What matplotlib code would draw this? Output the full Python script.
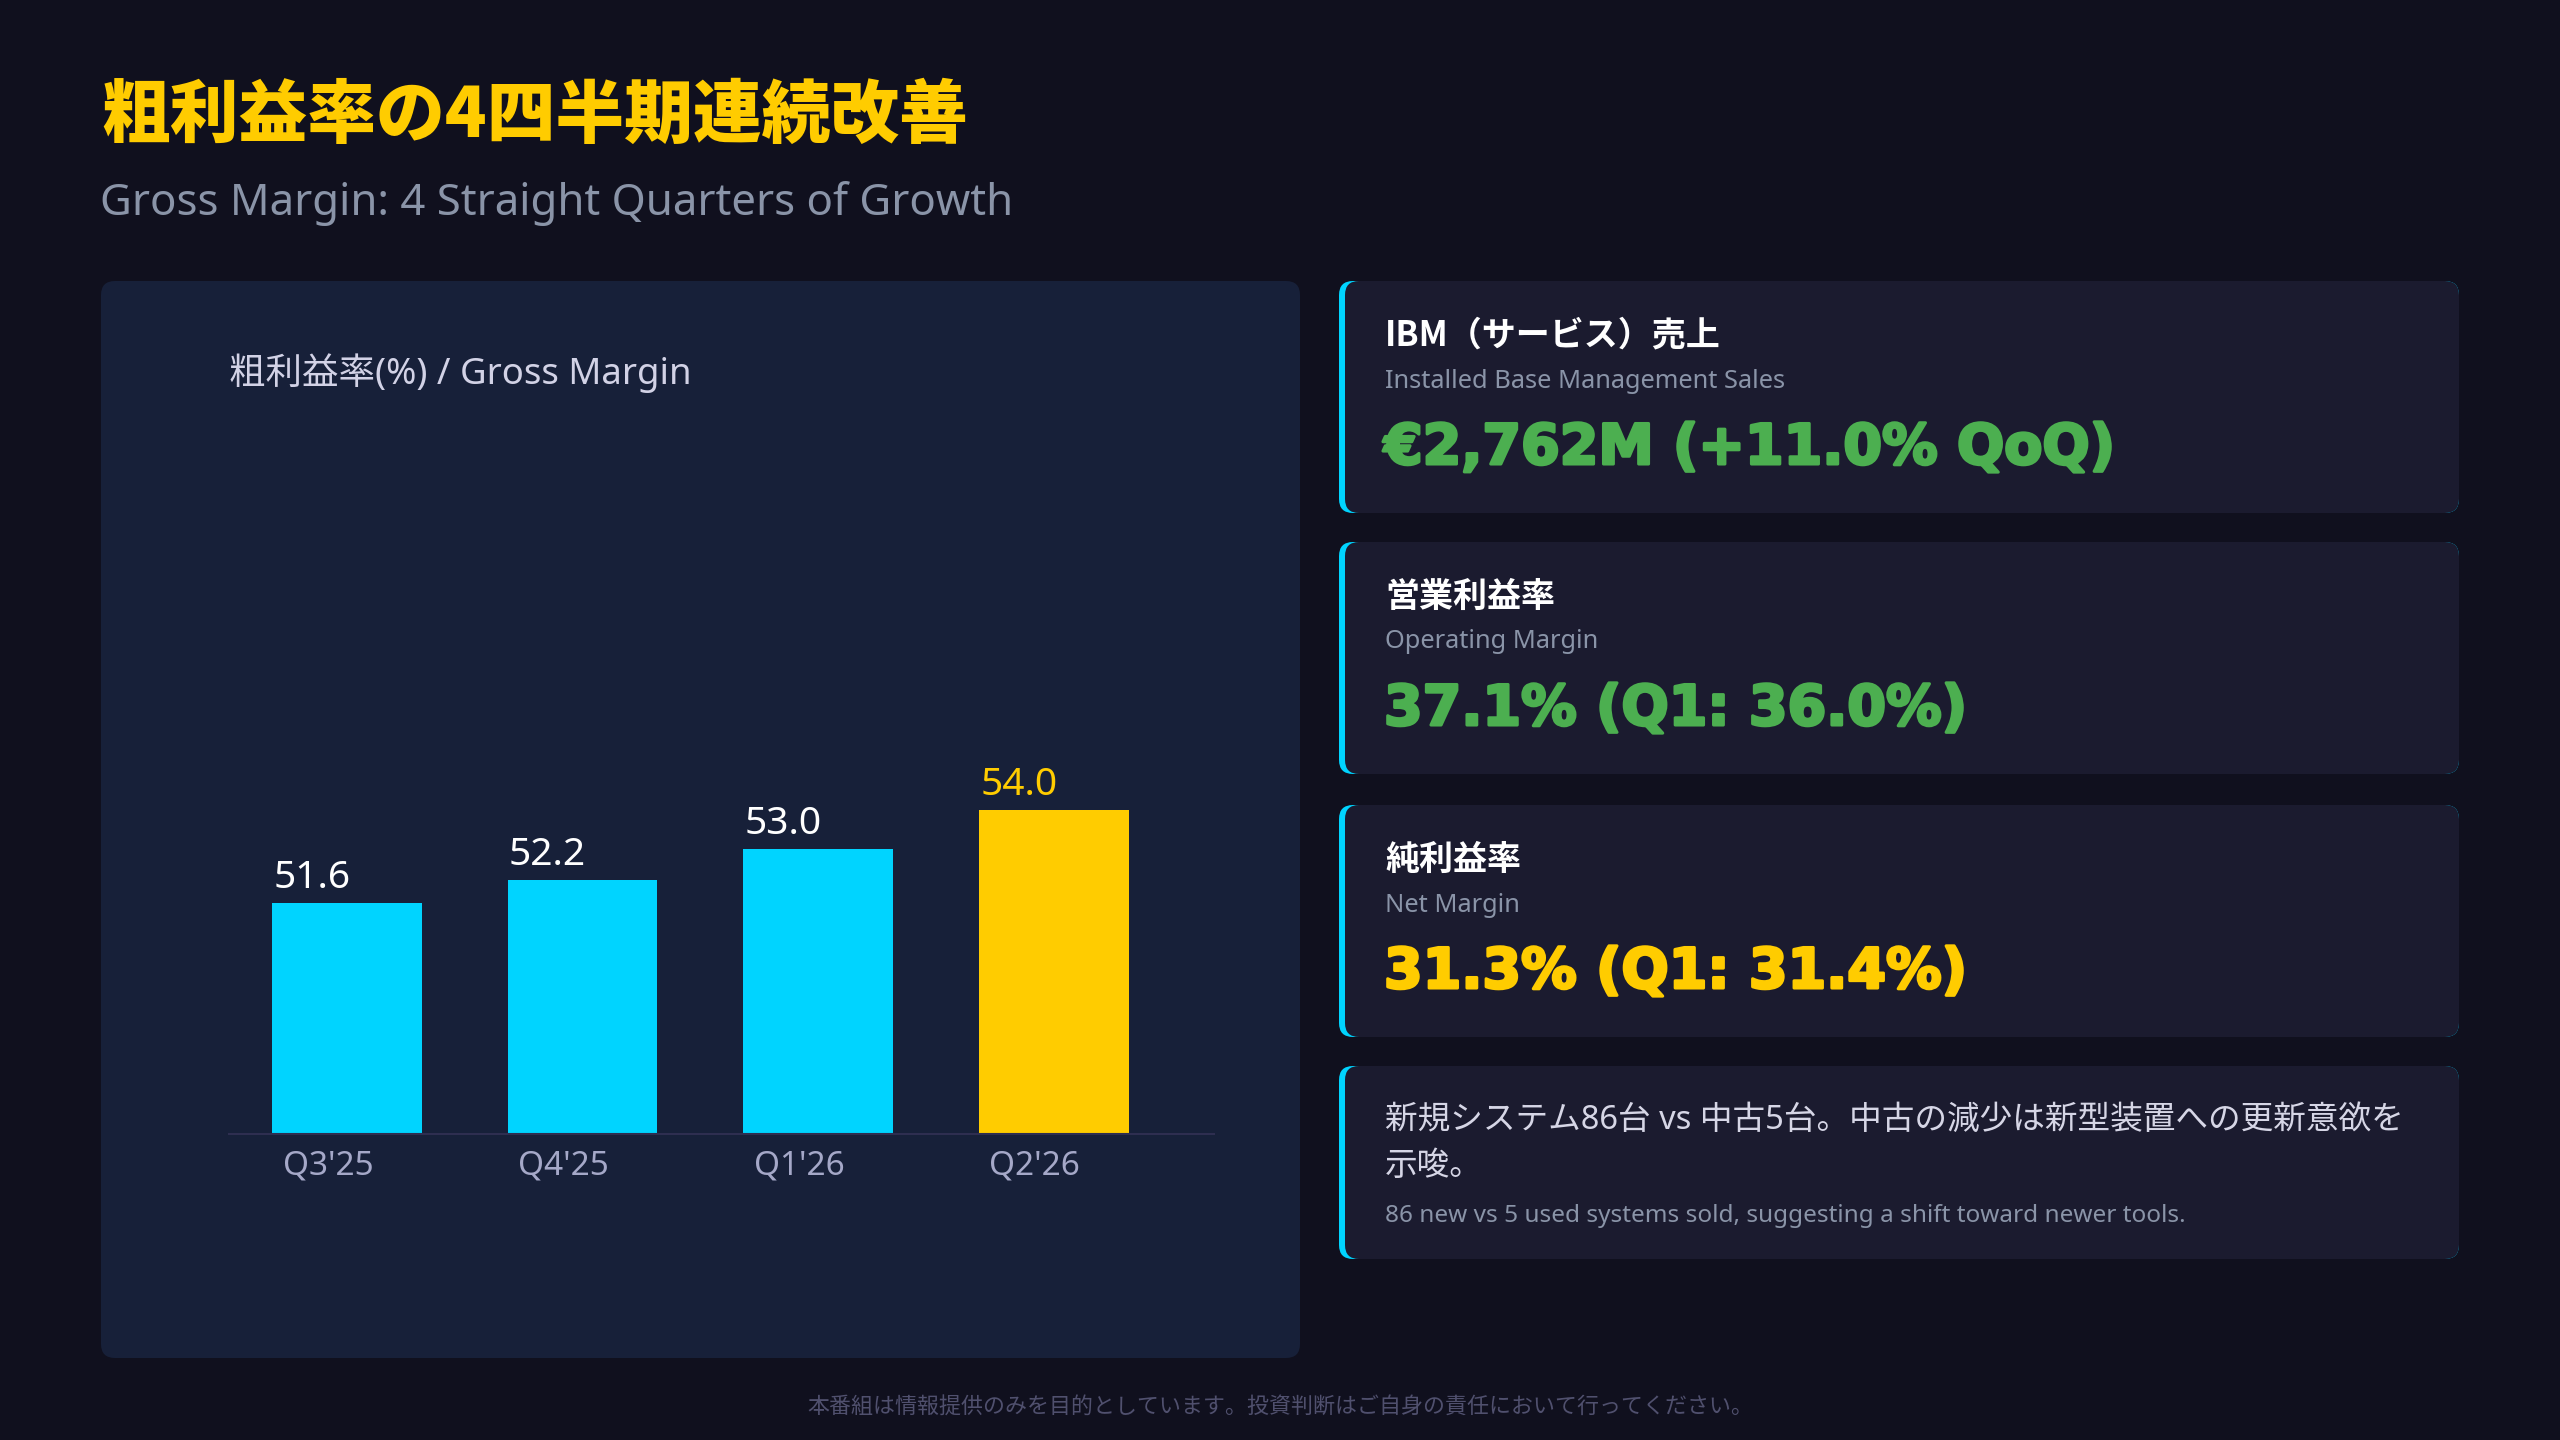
import matplotlib.pyplot as plt
import matplotlib.patheffects as pe
from matplotlib.patches import FancyBboxPatch

plt.rcParams['font.family'] = ['Noto Sans', 'Noto Sans CJK JP', 'DejaVu Sans']
CJK = ['Noto Sans CJK JP', 'DejaVu Sans']

# data
quarters = ["Q3'25", "Q4'25", "Q1'26", "Q2'26"]
gross_margin = [51.6, 52.2, 53.0, 54.0]
bar_colors = ['#00d4ff', '#00d4ff', '#00d4ff', '#ffcc00']
label_colors = ['#ffffff', '#ffffff', '#ffffff', '#ffcc00']

card_titles = ['IBM（サービス）売上', '営業利益率', '純利益率']
card_subtitles = ['Installed Base Management Sales', 'Operating Margin', 'Net Margin']
card_values = ['€2,762M (+11.0% QoQ)', '37.1% (Q1: 36.0%)', '31.3% (Q1: 31.4%)']
card_value_colors = ['#4caf50', '#4caf50', '#ffcc00']
note_jp = ['新規システム86台 vs 中古5台。中古の減少は新型装置への更新意欲を', '示唆。']
note_en = '86 new vs 5 used systems sold, suggesting a shift toward newer tools.'

title = '粗利益率の4四半期連続改善'
subtitle = 'Gross Margin: 4 Straight Quarters of Growth'
chart_label = '粗利益率(%) / Gross Margin'
footer = '本番組は情報提供のみを目的としています。投資判断はご自身の責任において行ってください。'

W, H = 2560, 1440
fig = plt.figure(figsize=(25.6, 14.4), dpi=100, facecolor='#10101e')

# background layer in pixel coords
bg = fig.add_axes([0, 0, 1, 1], zorder=0)
bg.set_xlim(0, W)
bg.set_ylim(H, 0)
bg.axis('off')


def rbox(x, y, w, h, color, r=14):
    bg.add_patch(FancyBboxPatch((x, y), w, h, boxstyle='round,pad=0,rounding_size=%d' % r,
                                facecolor=color, edgecolor='none'))


bg.text(101, 116, title, fontsize=49.5, weight='black', color='#ffcc00', va='center', family=CJK)
bg.text(100, 203, subtitle, fontsize=31.5, color='#8a94a8', va='center')

# left panel
rbox(101, 281, 1199, 1077, '#172039')
bg.text(229, 373, chart_label, fontsize=26.3, color='#d2d2e6', va='center')

# right cards
card_tops = [281, 542, 805, 1066]
card_heights = [232, 232, 232, 193]
for top, hgt in zip(card_tops, card_heights):
    rbox(1339, top, 1120, hgt, '#00d4ff')
    rbox(1345, top, 1114, hgt, '#1b1b2f')

for i in range(3):
    top = card_tops[i]
    bg.text(1385, top + 54, card_titles[i], fontsize=24.5, weight='bold', color='#ffffff',
            va='center', family=CJK)
    bg.text(1385, top + 100, card_subtitles[i], fontsize=18.3, color='#8a94a8', va='center')
    t = bg.text(1384, top + 168, card_values[i], fontsize=40, family='DejaVu Sans', weight='bold',
                color=card_value_colors[i], va='center')
    t.set_path_effects([pe.withStroke(linewidth=2.2, foreground=card_value_colors[i])])

top = card_tops[3]
bg.text(1385, top + 54, note_jp[0], fontsize=23.5, color='#d6d6e6', va='center')
bg.text(1385, top + 101, note_jp[1], fontsize=23.5, color='#d6d6e6', va='center')
bg.text(1385, top + 150, note_en, fontsize=17.5, color='#8a94a8', va='center')

bg.text(W / 2, 1408, footer, fontsize=15.8, color='#50506e', ha='center', va='center', family=CJK)

# bar chart
ax = fig.add_axes([229 / W, (H - 1134) / H, (1214 - 229) / W, (1134 - 420) / H], zorder=1)
ax.set_facecolor('none')
x = list(range(len(quarters)))
bw = 0.636
ax.bar(x, gross_margin, width=bw, color=bar_colors, linewidth=0)
ax.set_xlim(-0.5, 3.68)
ax.set_ylim(45.64, 64.09)
for s in ['top', 'right', 'left']:
    ax.spines[s].set_visible(False)
ax.spines['bottom'].set_color('#2e2e50')
ax.spines['bottom'].set_linewidth(1.5)
ax.set_yticks([])
ax.set_xticks([i - 0.08 for i in x])
ax.set_xticklabels(quarters, fontsize=24, color='#a5a8c8')
ax.tick_params(axis='x', length=0, pad=11)
for i, v in enumerate(gross_margin):
    ax.annotate('%.1f' % v, xy=(i - bw / 2, v), xytext=(1, 11), textcoords='offset points',
                ha='left', va='baseline', fontsize=28, color=label_colors[i])

fig.savefig('out.png', dpi=100, facecolor=fig.get_facecolor())
